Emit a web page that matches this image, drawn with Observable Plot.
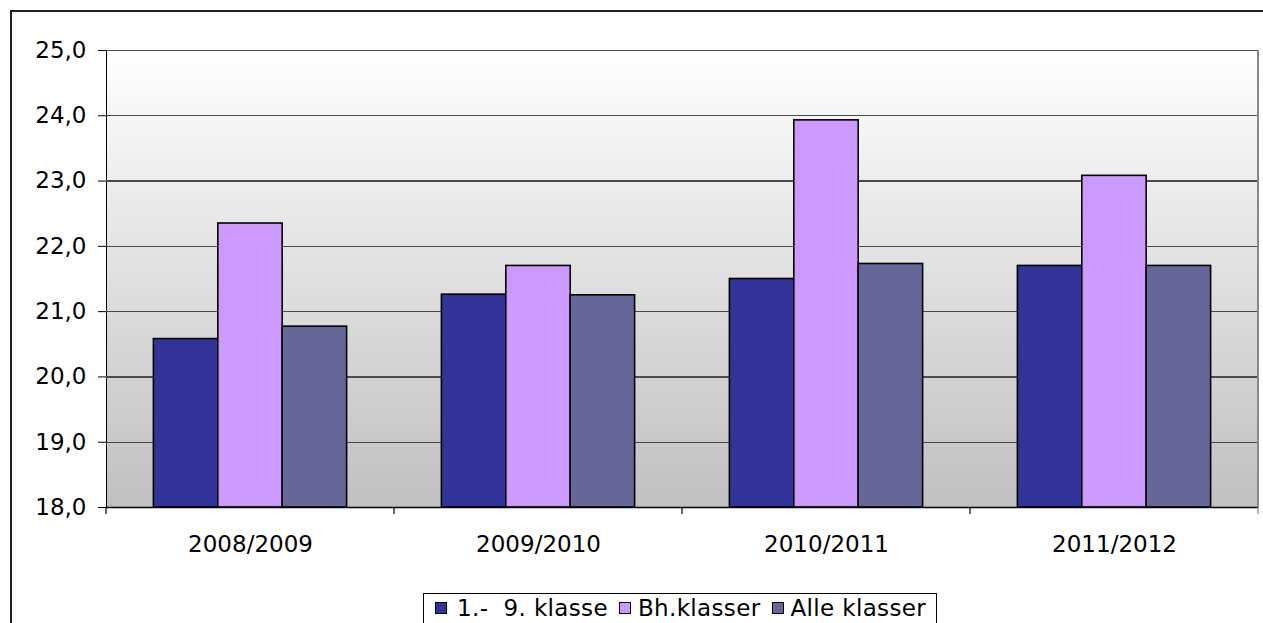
<!DOCTYPE html>
<html>
<head>
<meta charset="utf-8">
<script src="https://cdn.jsdelivr.net/npm/d3@7"></script>
<script src="https://cdn.jsdelivr.net/npm/@observablehq/plot@0.6"></script>
<style>
  html, body { margin: 0; padding: 0; background: #fff; overflow: hidden; }
  body { width: 1263px; height: 623px; position: relative; font-family: "DejaVu Sans", Verdana, sans-serif; }
  #frame { position: absolute; left: 10px; top: 10px; width: 1400px; height: 800px; border-left: 2px solid #222; border-top: 2px solid #222; }
  #chart { position: absolute; left: 0; top: 0; }
  #legend { position: absolute; left: 423px; top: 593px; width: 514px; height: 50px; border: 1px solid #000; background: #fff;
            display: flex; align-items: flex-start; padding-top: 0px; box-sizing: border-box; font-size: 23px; letter-spacing: 0.35px; color: #000; white-space: pre; }
  .item { display: flex; align-items: center; height: 28px; }
  .sw { width: 10px; height: 10px; border: 1px solid #000; margin: 0 10px 0 11px; }
  .item:nth-child(n+2) .sw { margin-left: 11px; margin-right: 7px; }
</style>
</head>
<body>
<div id="frame"></div>
<div id="chart"></div>
<div id="legend"></div>
<script>
const years = ["2008/2009", "2009/2010", "2010/2011", "2011/2012"];
const series = ["1.-  9. klasse", "Bh.klasser", "Alle klasser"];
const klasse19 = [20.58, 21.26, 21.50, 21.70];
const bhKlasser = [22.35, 21.70, 23.93, 23.08];
const alleKlasser = [20.77, 21.25, 21.73, 21.70];
const colors = ["#333399", "#cc99ff", "#666699"];
const yTicks = [18, 19, 20, 21, 22, 23, 24, 25];

const valuesBySeries = [klasse19, bhKlasser, alleKlasser];
const data = [];
years.forEach((yr, i) => series.forEach((s, j) => data.push({year: yr, series: s, value: valuesBySeries[j][i]})));

const fmt = d => d.toFixed(1).replace(".", ",");

const plot = Plot.plot({
  width: 1263,
  height: 570,
  marginLeft: 105,
  marginRight: 4,
  marginTop: 50,
  marginBottom: 63,
  style: {fontFamily: "DejaVu Sans, Verdana, sans-serif", fontSize: "23px", color: "#000", background: "transparent", overflow: "visible"},
  fx: {domain: years, padding: 0, label: null, axis: "bottom", tickSize: 0, tickPadding: 28},
  x: {domain: series, axis: null, paddingInner: 0, paddingOuter: 0.736, round: false},
  y: {domain: [18, 25], ticks: yTicks, tickFormat: fmt, tickSize: 8, tickPadding: 12, label: null, line: true},
  color: {domain: series, range: colors},
  marks: [
    Plot.frame({fill: "url(#bgGrad)", stroke: null, shapeRendering: "crispEdges"}),
    Plot.ruleY(yTicks.filter(d => d > 18), {stroke: "#4a4a4a", strokeWidth: 1.2, shapeRendering: "crispEdges"}),
    Plot.barY(data, {fx: "year", x: "series", y1: 18, y2: "value", fill: "series", stroke: "#000", strokeWidth: 1.6}),
    Plot.ruleY([18], {stroke: "#000", strokeWidth: 1.5})
  ]
});

// gradient definition for the plot area background
const svg = d3.select(plot);
const defs = svg.insert("defs", ":first-child");
const grad = defs.append("linearGradient").attr("id", "bgGrad").attr("x1", 0).attr("y1", 0).attr("x2", 0).attr("y2", 1);
grad.append("stop").attr("offset", "0%").attr("stop-color", "#ffffff");
grad.append("stop").attr("offset", "100%").attr("stop-color", "#c0c0c0");

// category boundary ticks and right edge, from the fx scale
const fx = plot.scale("fx");
const yS = plot.scale("y");
const y0 = yS.apply(18), yTop = yS.apply(25);
const bounds = years.map(y => fx.apply(y)).concat([fx.apply(years[years.length - 1]) + fx.bandwidth]);
const g = svg.append("g");
bounds.forEach((bx, i) => {
  g.append("line").attr("x1", bx).attr("x2", bx).attr("y1", y0).attr("y2", y0 + 7).attr("stroke", i === bounds.length - 1 ? "#888" : "#000").attr("stroke-width", 1.2);
});
const rx = bounds[bounds.length - 1];
g.append("line").attr("x1", rx).attr("x2", rx).attr("y1", yTop).attr("y2", y0).attr("stroke", "#888").attr("stroke-width", 2);

document.getElementById("chart").appendChild(plot);

// legend
const legend = d3.select("#legend");
series.forEach((s, i) => {
  const it = legend.append("div").attr("class", "item");
  it.append("div").attr("class", "sw").style("background", colors[i]);
  it.append("span").text(s);
});
</script>
</body>
</html>
